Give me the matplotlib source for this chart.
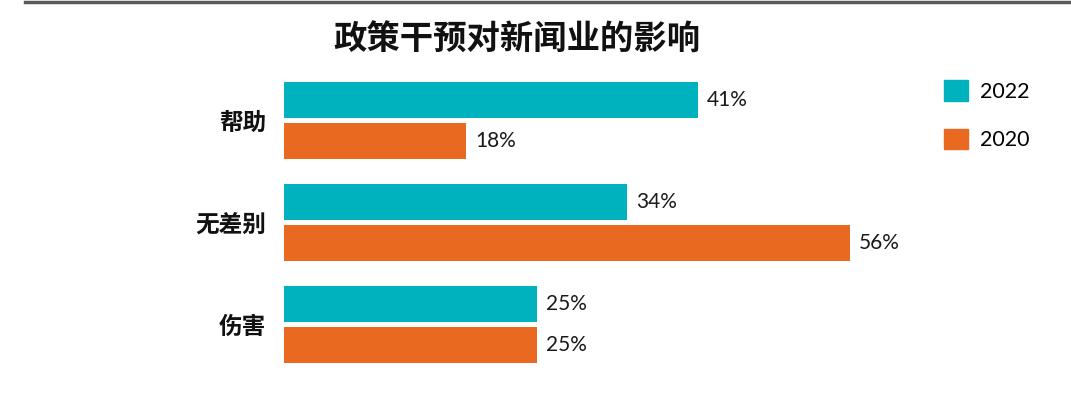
import matplotlib
matplotlib.use("Agg")
import matplotlib.pyplot as plt
from matplotlib.patches import Patch
from matplotlib.lines import Line2D

categories = ["帮助", "无差别", "伤害"]
series_names = ["2022", "2020"]
values_2022 = [41, 34, 25]
values_2020 = [18, 56, 25]
title = "政策干预对新闻业的影响"

teal = "#00B2BE"
orange = "#E8691F"

plt.rcParams['font.family'] = ['Noto Sans CJK SC', 'DejaVu Sans']

fig = plt.figure(figsize=(10.71, 3.95), dpi=100)
ax = fig.add_axes([284/1071, 1-375.5/395, 707/1071, 306/395])

ypos = list(range(len(categories)))
h = 0.353
off = 0.201
b1 = ax.barh([y - off for y in ypos], values_2022, height=h, color=teal, label=series_names[0])
b2 = ax.barh([y + off for y in ypos], values_2020, height=h, color=orange, label=series_names[1])

for bars, vals in ((b1, values_2022), (b2, values_2020)):
    for rect, v in zip(bars, vals):
        ax.annotate(f"{v}%", xy=(rect.get_width(), rect.get_y() + rect.get_height()/2),
                    xytext=(6.5, 0), textcoords="offset points", va="center", ha="left",
                    fontsize=15, family=['Lato', 'DejaVu Sans'], color="#1a1a1a")

ax.set_xlim(0, 70)
ax.set_ylim(2.5, -0.5)
ax.set_yticks(ypos)
ax.set_yticklabels(categories, fontsize=17, fontweight='bold', color="#111111")
ax.tick_params(axis='y', length=0, pad=13)
ax.set_xticks([])
for s in ax.spines.values():
    s.set_visible(False)

handles = [Patch(color=teal), Patch(color=orange)]
fig.legend(handles, series_names, loc='upper left', bbox_to_anchor=(944/1071, 1-80/395),
           frameon=False, handlelength=1.1, handleheight=1.1,
           labelspacing=1.25, handletextpad=0.55, borderpad=0, borderaxespad=0,
           prop={'family': ['Lato', 'DejaVu Sans'], 'size': 15.5})

fig.text(517/1071, 1-40/395, title, ha='center', va='center', fontsize=24,
         fontweight='bold', color="#111111")

fig.add_artist(Line2D([25/1071, 1], [1-1.5/395, 1-1.5/395], color="#5a5a5a", lw=2.5,
                      transform=fig.transFigure))

fig.savefig("out.png", dpi=100)
